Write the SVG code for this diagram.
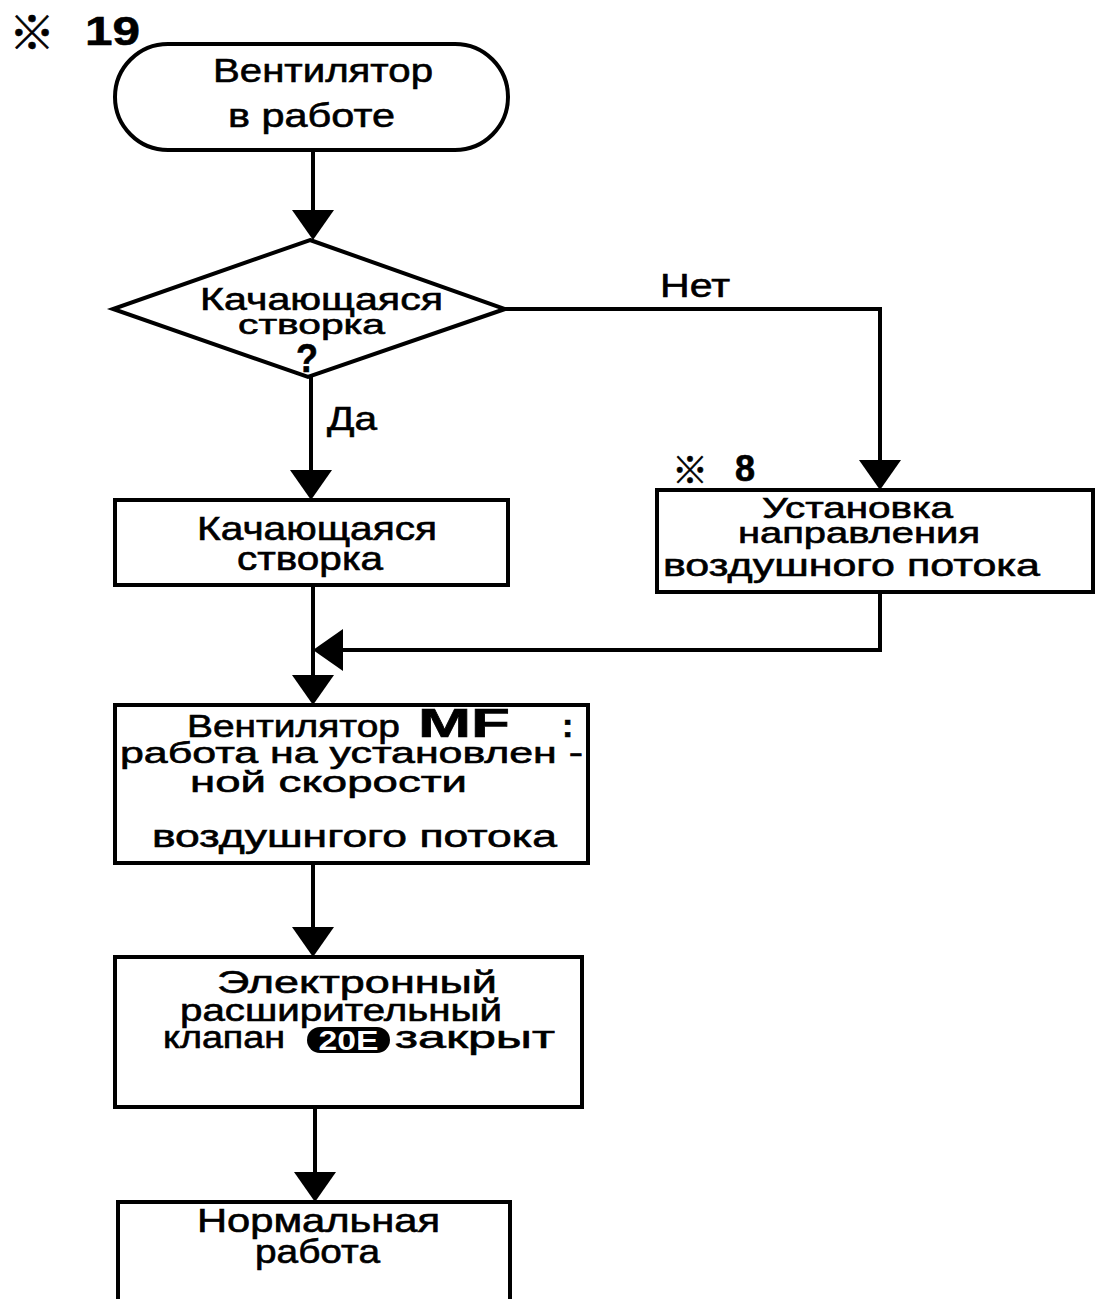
<svg xmlns="http://www.w3.org/2000/svg" width="1096" height="1299" viewBox="0 0 1096 1299" font-size="33">
<style>
.shape{fill:#fff;stroke:#000;stroke-width:4}
.conn{fill:none;stroke:#000;stroke-width:4}
text{font-family:"Liberation Sans","Noto Sans CJK JP",sans-serif;fill:#000;stroke:#000;stroke-width:0.6}
.b{font-weight:bold}
.ref{font-family:"Noto Sans CJK JP","Noto Sans CJK SC",sans-serif;font-weight:bold;dominant-baseline:central;text-anchor:middle}
</style>
<defs>
<marker id="arr" markerUnits="userSpaceOnUse" viewBox="0 0 30 42" markerWidth="30" markerHeight="42" refX="24" refY="21" orient="auto">
<path d="M0,0 L30,21 L0,42 Z" fill="#000"/>
</marker>
</defs>
<rect width="1096" height="1299" fill="#fff"/>

<g id="connectors">
<path class="conn" d="M313,150 V234" marker-end="url(#arr)"/>
<path class="conn" d="M311,377 V494" marker-end="url(#arr)"/>
<path class="conn" d="M505,309 H880 V484" marker-end="url(#arr)"/>
<path class="conn" d="M313,585 V699" marker-end="url(#arr)"/>
<path class="conn" d="M880,592 V650 H319" marker-end="url(#arr)"/>
<path class="conn" d="M313,863 V951" marker-end="url(#arr)"/>
<path class="conn" d="M315,1107 V1196" marker-end="url(#arr)"/>
<text x="327" y="430" font-size="34" textLength="50" lengthAdjust="spacingAndGlyphs">Да</text>
<text x="660" y="297" font-size="34" textLength="70" lengthAdjust="spacingAndGlyphs">Нет</text>
</g>

<g id="note19">
<text class="ref" x="32" y="29" font-size="46" textLength="46" lengthAdjust="spacingAndGlyphs">※</text>
<text class="b" x="85" y="45" font-size="40" textLength="55" lengthAdjust="spacingAndGlyphs">19</text>
</g>

<g id="start">
<rect class="shape" x="115" y="44" width="393" height="106" rx="53" ry="53"/>
<text x="213" y="82" font-size="34" textLength="220" lengthAdjust="spacingAndGlyphs">Вентилятор</text>
<text x="228" y="127" font-size="34" textLength="167" lengthAdjust="spacingAndGlyphs">в работе</text>
</g>

<g id="decision">
<polygon class="shape" points="310,240 505,309 308,377 113,309"/>
<text x="200" y="310" font-size="31" textLength="243" lengthAdjust="spacingAndGlyphs">Качающаяся</text>
<text x="238" y="334" font-size="28" textLength="147" lengthAdjust="spacingAndGlyphs">створка</text>
<text class="b" x="296" y="372" font-size="40" textLength="22" lengthAdjust="spacingAndGlyphs">?</text>
</g>

<g id="swing">
<rect class="shape" x="115" y="500" width="393" height="85"/>
<text x="197" y="540" textLength="240" lengthAdjust="spacingAndGlyphs">Качающаяся</text>
<text x="237" y="570" textLength="146" lengthAdjust="spacingAndGlyphs">створка</text>
</g>

<g id="airflow">
<text class="ref" x="690" y="468" font-size="37" textLength="36" lengthAdjust="spacingAndGlyphs">※</text>
<text class="b" x="735" y="481" font-size="36">8</text>
<rect class="shape" x="657" y="490" width="436" height="102"/>
<text x="762" y="518" font-size="29" textLength="191" lengthAdjust="spacingAndGlyphs">Установка</text>
<text x="738" y="543" font-size="29" textLength="242" lengthAdjust="spacingAndGlyphs">направления</text>
<text x="663" y="576" font-size="32" textLength="377" lengthAdjust="spacingAndGlyphs">воздушного потока</text>
</g>

<g id="fan">
<rect class="shape" x="115" y="705" width="473" height="158"/>
<text x="187" y="737" font-size="31" textLength="213" lengthAdjust="spacingAndGlyphs">Вентилятор</text>
<text class="b" x="418" y="737" font-size="40" textLength="92" lengthAdjust="spacingAndGlyphs">MF</text>
<text class="b" x="562" y="737" font-size="34">:</text>
<text x="120" y="763" font-size="30" textLength="463" lengthAdjust="spacingAndGlyphs">работа на установлен -</text>
<text x="190" y="792" font-size="30" textLength="277" lengthAdjust="spacingAndGlyphs">ной скорости</text>
<text x="152" y="847" font-size="31" textLength="405" lengthAdjust="spacingAndGlyphs">воздушнгого потока</text>
</g>

<g id="valve">
<rect class="shape" x="115" y="957" width="467" height="150"/>
<text x="217" y="993" font-size="31" textLength="280" lengthAdjust="spacingAndGlyphs">Электронный</text>
<text x="180" y="1021" font-size="31" textLength="322" lengthAdjust="spacingAndGlyphs">расширительный</text>
<text x="163" y="1048" font-size="31" textLength="122" lengthAdjust="spacingAndGlyphs">клапан</text>
<rect x="307" y="1027" width="83" height="26" rx="13" ry="13" fill="#000"/>
<text class="b" x="348.5" y="1050" font-size="28" text-anchor="middle" style="fill:#fff;stroke:none" textLength="60" lengthAdjust="spacingAndGlyphs">20E</text>
<text x="395" y="1048" font-size="31" textLength="160" lengthAdjust="spacingAndGlyphs">закрыт</text>
</g>

<g id="normal">
<path class="shape" d="M118,1299 V1202 H510 V1299"/>
<text x="197" y="1232" textLength="243" lengthAdjust="spacingAndGlyphs">Нормальная</text>
<text x="255" y="1263" textLength="125" lengthAdjust="spacingAndGlyphs">работа</text>
</g>
</svg>
